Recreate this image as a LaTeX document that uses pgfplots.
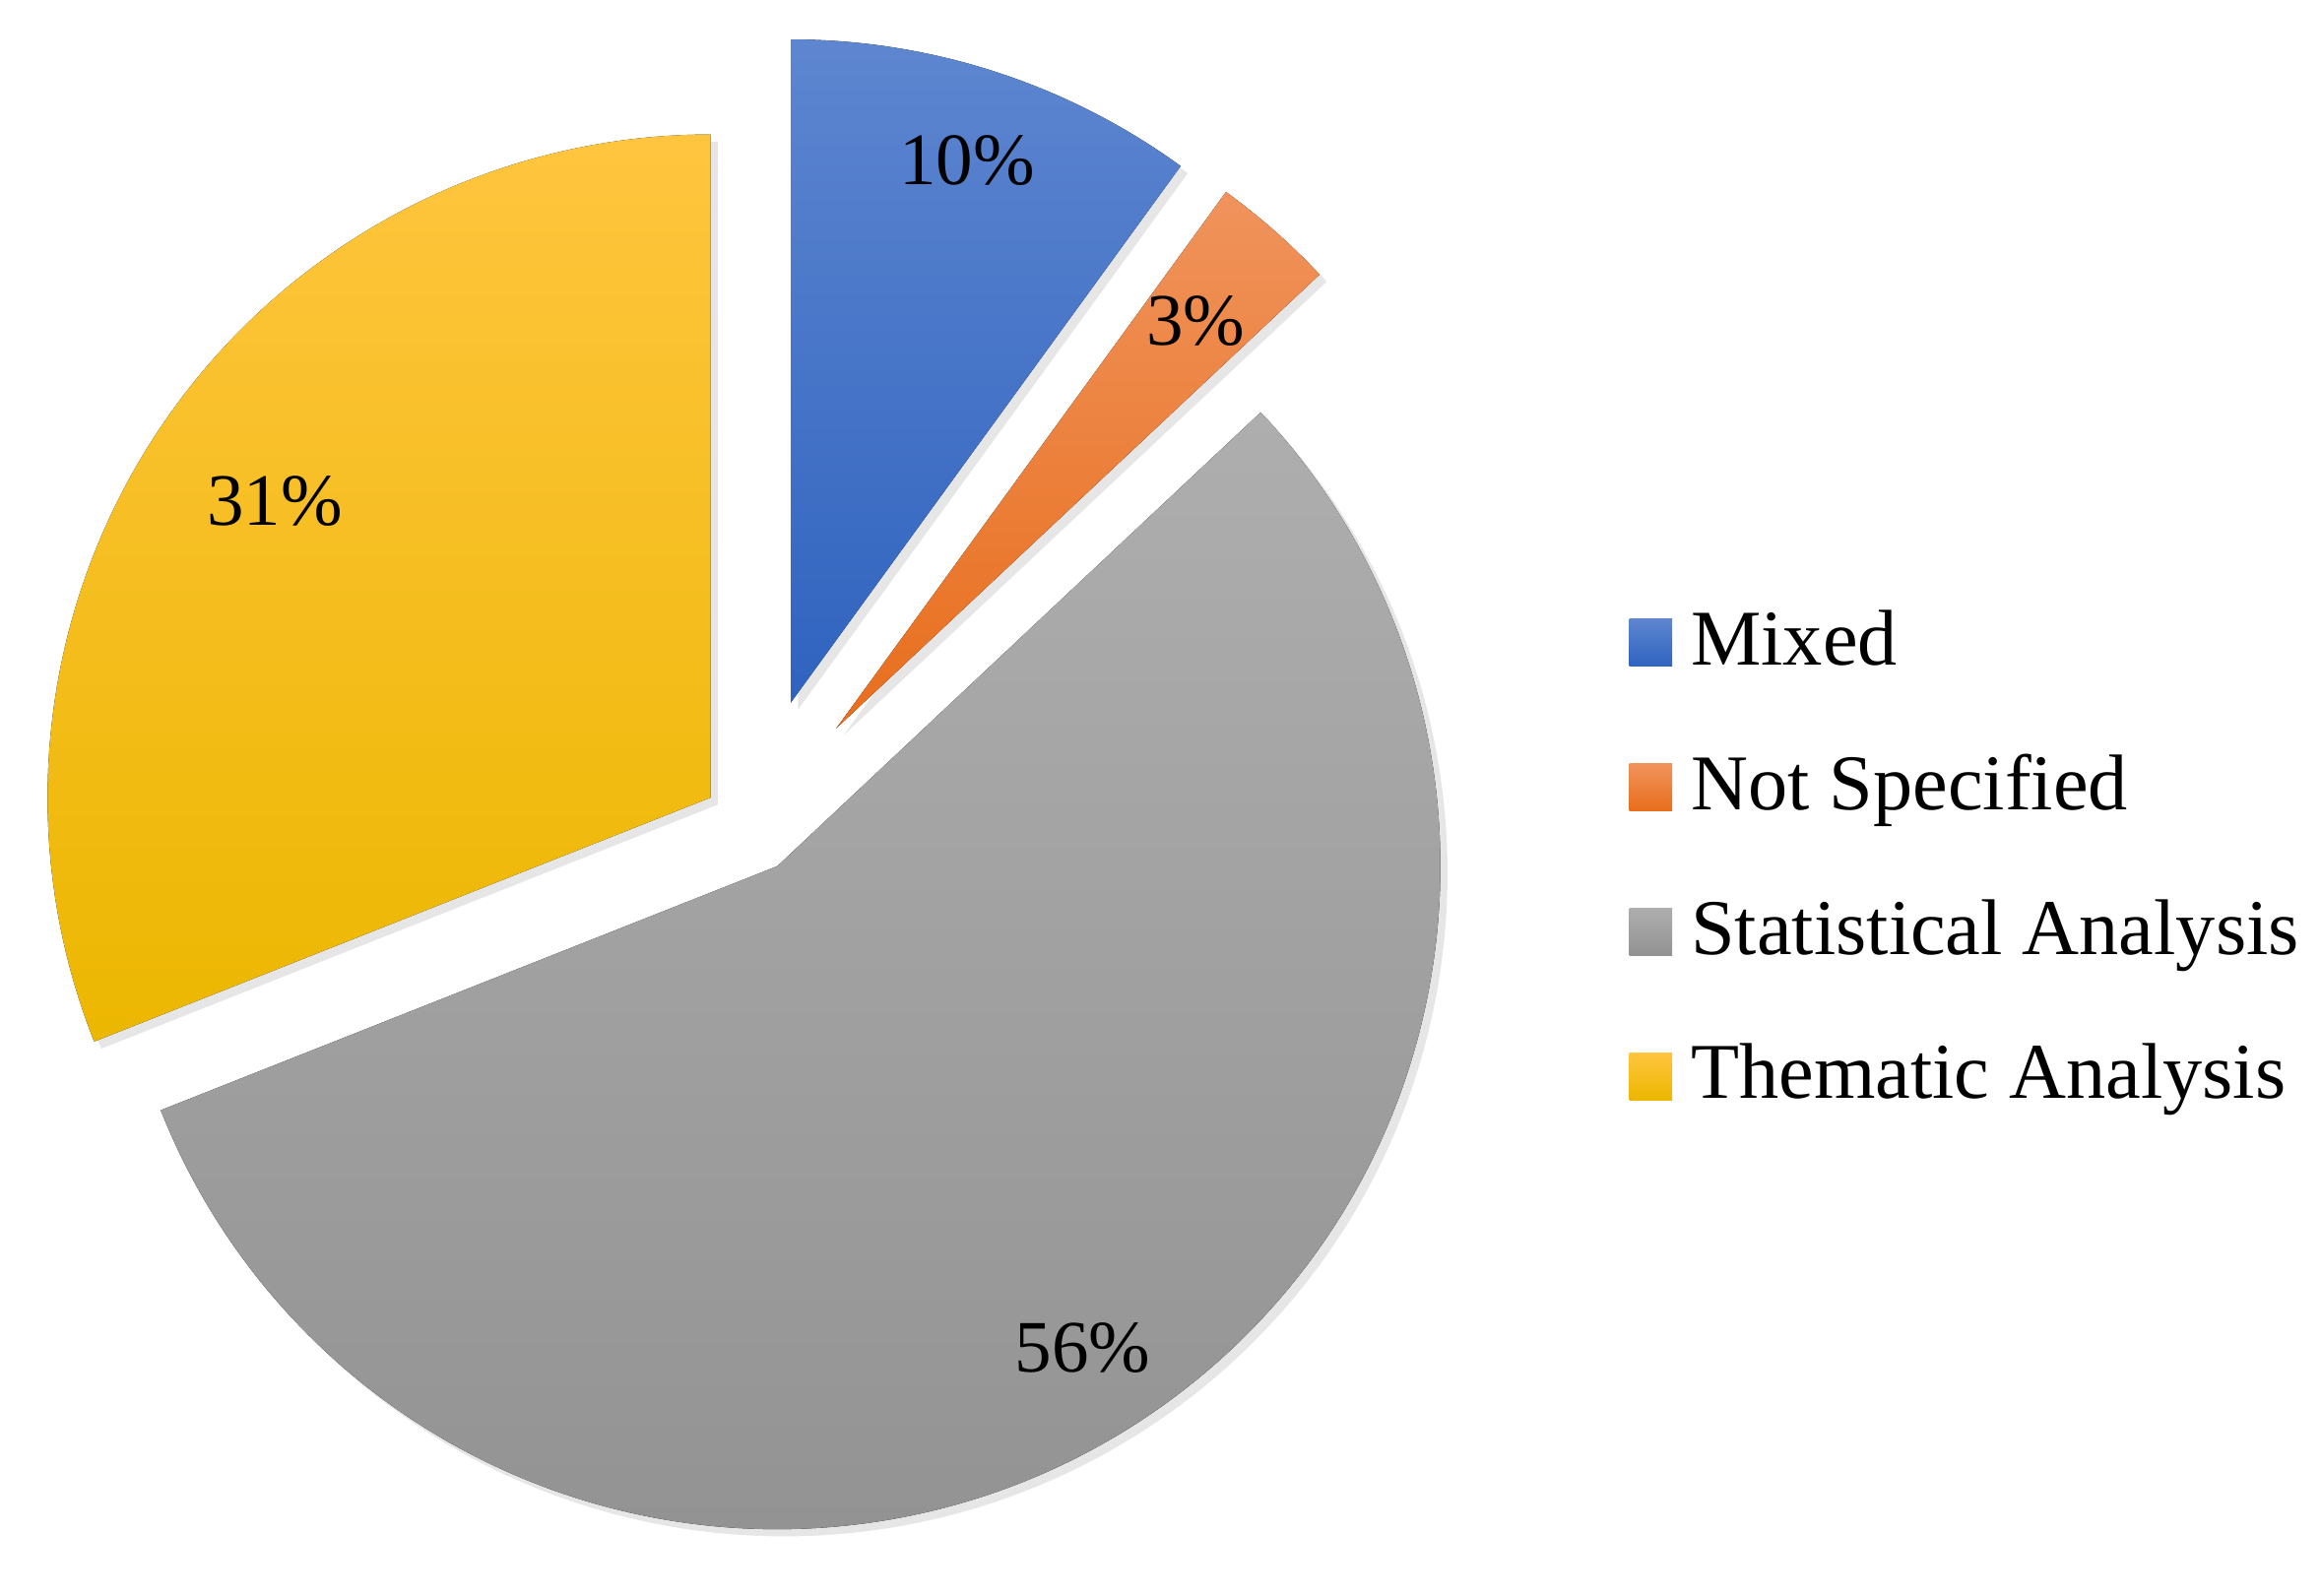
\documentclass[border=0pt]{standalone}
\usepackage{pgfplots}
\pgfplotsset{compat=1.18}
\usepackage{pgfplotstable}
\usepackage{fontspec}
\setmainfont{Liberation Serif}
\usetikzlibrary{shadows}

\definecolor{mixTop}{HTML}{5E86D0}
\definecolor{mixBot}{HTML}{2F63BF}
\definecolor{nsTop}{HTML}{F0935C}
\definecolor{nsBot}{HTML}{E86E1C}
\definecolor{staTop}{HTML}{AEAEAE}
\definecolor{staBot}{HTML}{929292}
\definecolor{theTop}{HTML}{FFC53F}
\definecolor{theBot}{HTML}{ECB700}

% share in percent, explode offset (px of the 1568 wide frame),
% label distance (fraction of radius), colours
\pgfplotstableread[col sep=comma]{
name,value,explode,lpos,top,bot
Mixed,10,87,0.86,mixTop,mixBot
Not Specified,3,87,0.82,nsTop,nsBot
Statistical Analysis,56,33,0.86,staTop,staBot
Thematic Analysis,31,33,0.795,theTop,theBot
}\piedata

\begin{document}
\begin{tikzpicture}
\begin{axis}[
    scale only axis,
    width=16cm, height=11cm,
    xmin=0, xmax=1568, ymin=0, ymax=1078,
    hide axis, clip=false,
    legend style={draw=none, fill=none, at={(axis cs:1100,493)}, anchor=west,
        font=\fontsize{15.5}{18}\selectfont, inner sep=0pt,
        row sep=0.577cm, column sep=0.13cm,
        nodes={inner sep=0pt, text height=0.32cm, text depth=0.1cm}},
    legend cell align=left,
    legend image code/.code={\fill[#1, draw=none] (0cm,-0.12cm) rectangle (0.296cm,0.207cm);},
]
\path (rel axis cs:0,0) rectangle (rel axis cs:1,1);
\pgfmathsetmacro\R{448*16/1568}
\def\cum{0}
\pgfplotstablegetrowsof{\piedata}
\pgfmathtruncatemacro\nrows{\pgfplotsretval-1}
\pgfplotsforeachungrouped \i in {0,...,\nrows}{
    \pgfplotstablegetelem{\i}{name}\of\piedata \let\nm\pgfplotsretval
    \pgfplotstablegetelem{\i}{value}\of\piedata \let\v\pgfplotsretval
    \pgfplotstablegetelem{\i}{explode}\of\piedata \let\ex\pgfplotsretval
    \pgfplotstablegetelem{\i}{lpos}\of\piedata \let\lp\pgfplotsretval
    \pgfplotstablegetelem{\i}{top}\of\piedata \let\tc\pgfplotsretval
    \pgfplotstablegetelem{\i}{bot}\of\piedata \let\bc\pgfplotsretval
    \pgfmathsetmacro\a{90-3.6*\cum}
    \pgfmathsetmacro\b{90-3.6*(\cum+\v)}
    \pgfmathsetmacro\m{(\a+\b)/2}
    \pgfmathsetmacro\cx{507.4+\ex*cos(\m)}
    \pgfmathsetmacro\cy{520.6+\ex*sin(\m)}
    \pgfmathsetmacro\lx{\cx+\lp*448*cos(\m)}
    \pgfmathsetmacro\ly{\cy+\lp*448*sin(\m)}
    \edef\temp{%
        \noexpand\fill[top color=\tc, bottom color=\bc,
            drop shadow={opacity=0.2, shadow xshift=1.4pt, shadow yshift=-1.4pt}]
            (axis cs:\cx,\cy) -- ++(\a:\R cm)
            arc[start angle=\a, end angle=\b, radius=\R cm] -- cycle;
        \noexpand\node[font=\noexpand\fontsize{14.5}{17}\noexpand\selectfont]
            at (axis cs:\lx,\ly) {\v\noexpand\%};
        \noexpand\addlegendimage{top color=\tc, bottom color=\bc}
        \noexpand\addlegendentry{\nm}
    }\temp
    \pgfmathsetmacro\cum{\cum+\v}
}
\end{axis}
\end{tikzpicture}
\end{document}
